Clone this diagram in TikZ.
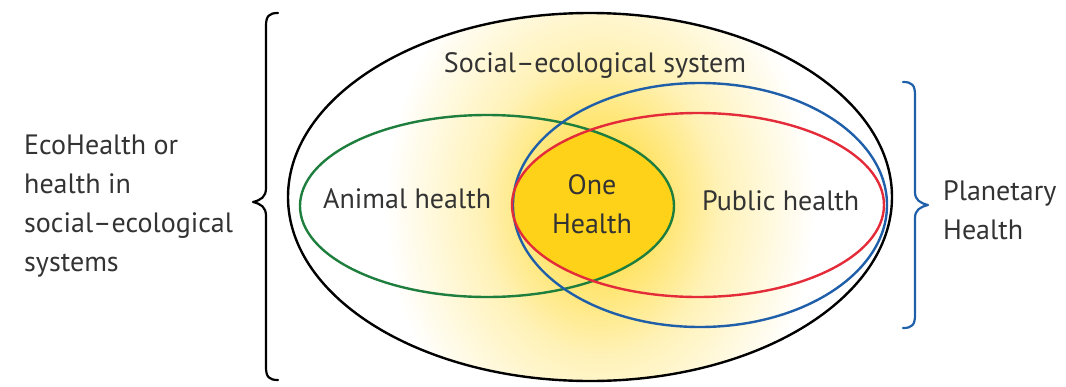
\documentclass[tikz,border=0pt]{standalone}
\usepackage{fontspec}
\setmainfont{PT Sans}
\definecolor{gy}{HTML}{FFD21A}
\definecolor{gm}{HTML}{FFE055}
\definecolor{gl}{HTML}{FFF2B8}
\definecolor{txt}{HTML}{333333}
\definecolor{cgreen}{HTML}{1E7E3E}
\definecolor{cblue}{HTML}{1F5FAA}
\definecolor{cred}{HTML}{E42B3A}
\pgfdeclareradialshading{glow}{\pgfpoint{0bp}{0bp}}{color(0bp)=(gy); color(5bp)=(gm); color(14bp)=(gl); color(25bp)=(white); color(50bp)=(white)}
\begin{document}
\begin{tikzpicture}[x=1pt,y=-1pt,
  ring/.style={line width=2.4pt},
  lbl/.style={text=txt,font=\fontsize{28}{39}\selectfont,inner sep=0pt},
  brace/.style={line width=2.2pt,line cap=round,line join=round}]
\useasboundingbox (0,0) rectangle (1066,386);
% glow clipped to the outer ellipse
\begin{scope}
  \clip (590,197) ellipse [x radius=302, y radius=184];
  \shade[shading=glow] (600,205) ellipse [x radius=215, y radius=270];
  \begin{scope}
    \clip (487,206) ellipse [x radius=187, y radius=91];
    \fill[gy] (698,205) ellipse [x radius=186, y radius=92];
  \end{scope}
\end{scope}
% ellipses
\draw[ring,black] (590,197) ellipse [x radius=302, y radius=184];
\draw[ring,cgreen] (487,206) ellipse [x radius=187, y radius=91];
\draw[ring,cblue] (700,205) ellipse [x radius=187, y radius=122];
\draw[ring,cred] (698,205) ellipse [x radius=186, y radius=92];
% labels
\node[lbl,anchor=base] (ses) at (595,72) {Social–ecological system};
\node[lbl,anchor=base west] (animal) at (323,208) {Animal health};
\node[lbl,align=center] (one) at (592,204) {One\\Health};
\node[lbl,anchor=base west] (public) at (702,210) {Public health};
\node[lbl,align=left,anchor=west] (eco) at (24,206) {EcoHealth or\\health in\\social–ecological\\systems};
\node[lbl,align=left,anchor=west] (planet) at (943,210) {Planetary\\Health};
% braces
\draw[brace,black] (278,13) .. controls (269,13) and (266,16) .. (266,26) -- (266,188) .. controls (266,197) and (261,200) .. (253,202) .. controls (261,204) and (266,207) .. (266,216) -- (266,367) .. controls (266,377) and (269,380) .. (278,380);
\draw[brace,cblue] (903,82) .. controls (912,82) and (915,85) .. (915,95) -- (915,192) .. controls (915,200) and (920,203) .. (928,205) .. controls (920,207) and (915,210) .. (915,218) -- (915,315) .. controls (915,325) and (912,328) .. (903,328);
\end{tikzpicture}
\end{document}
